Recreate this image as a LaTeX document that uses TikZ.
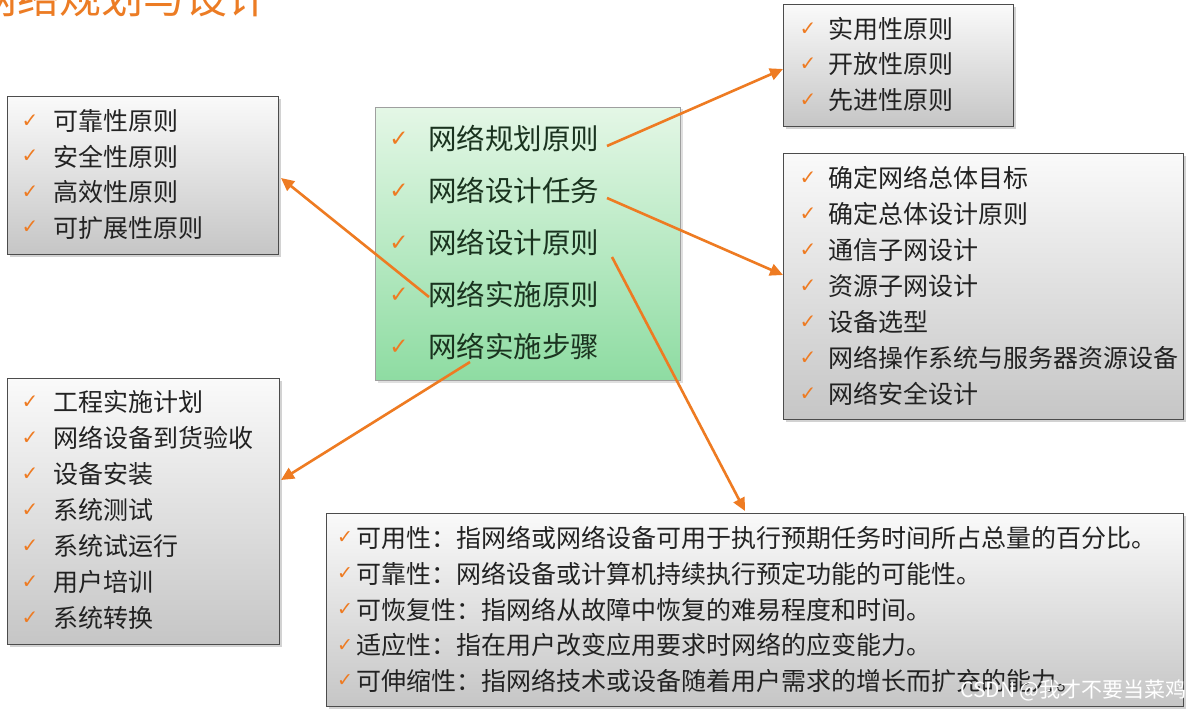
\documentclass[tikz,border=0pt]{standalone}
\usepackage{fontspec}
\setmainfont{Noto Sans CJK SC}
\newfontfamily\ttlfont{Noto Sans CJK SC}
\newfontfamily\chk{DejaVu Sans}
\usetikzlibrary{arrows.meta,shadows}
\definecolor{org}{HTML}{EE7B22}
\definecolor{txt}{HTML}{222222}
\definecolor{ctxt}{HTML}{1A331F}
\definecolor{ttl}{HTML}{EC7C24}
\definecolor{greenA}{HTML}{E4F7E6}
\definecolor{greenB}{HTML}{8EDCA2}
\tikzset{
  graybox/.style={draw=black!70, line width=1.3pt, top color=gray!4, bottom color=gray!45,
    drop shadow={shadow xshift=2.5pt,shadow yshift=-2.5pt,opacity=0.35},
    inner sep=0, anchor=north west},
  greenbox/.style={draw=gray!75, line width=1pt, top color=greenA, bottom color=greenB,
    drop shadow={shadow xshift=2pt,shadow yshift=-2pt,opacity=0.25},
    inner sep=0, anchor=north west},
  item/.style={anchor=base west, font=\fontsize{25}{25}\selectfont, text=txt, inner sep=0},
  bigitem/.style={item, text=ctxt, font=\fontsize{28.5}{28.5}\selectfont},
  tick/.style={text=org, font=\chk\fontsize{20}{20}\selectfont, inner sep=0},
  bigtick/.style={tick, font=\chk\fontsize{23}{23}\selectfont},
  smalltick/.style={tick, font=\chk\fontsize{19}{19}\selectfont},
  link/.style={draw=org, line width=2.6pt, -{Triangle[length=13pt,width=12pt]}},
}
\begin{document}
\begin{tikzpicture}[x=1pt,y=-1pt]
\useasboundingbox (0,0) rectangle (1187,709);
\clip (0,0) rectangle (1187,709);
\fill[white] (0,0) rectangle (1187,709);

% title
\node[anchor=base west, text=ttl, font=\ttlfont\fontsize{42}{42}\selectfont, inner sep=0] (title) at (-25,14) {网络规划与设计};

% boxes
\node[greenbox, minimum width=305pt, minimum height=273pt] (cb) at (375,107) {};
\node[graybox, minimum width=230pt, minimum height=122pt] (rt) at (783,4) {};
\node[graybox, minimum width=271pt, minimum height=158pt] (lt) at (7,96) {};
\node[graybox, minimum width=400pt, minimum height=266pt] (rm) at (783,153) {};
\node[graybox, minimum width=272pt, minimum height=266pt] (lb) at (7,378) {};
\node[graybox, minimum width=857pt, minimum height=193pt] (bb) at (326,513) {};

% central items
\foreach \t [count=\i] in {网络规划原则,网络设计任务,网络设计原则,网络实施原则,网络实施步骤}{
  \pgfmathsetmacro{\yy}{139+52*(\i-1)}
  \node[bigtick] (ck\i) at (399,\yy) {✓};
  \node[bigitem] (c\i) at (428,\yy+10.8) {\t};
}

% top right
\foreach \t [count=\i] in {实用性原则,开放性原则,先进性原则}{
  \pgfmathsetmacro{\yy}{29+35.5*(\i-1)}
  \node[tick] (rtk\i) at (808,\yy) {✓};
  \node[item] (rt\i) at (828,\yy+9.5) {\t};
}

% left top
\foreach \t [count=\i] in {可靠性原则,安全性原则,高效性原则,可扩展性原则}{
  \pgfmathsetmacro{\yy}{121+35.5*(\i-1)}
  \node[tick] (ltk\i) at (30,\yy) {✓};
  \node[item] (lt\i) at (53,\yy+9.5) {\t};
}

% right middle
\foreach \t [count=\i] in {确定网络总体目标,确定总体设计原则,通信子网设计,资源子网设计,设备选型,网络操作系统与服务器资源设备,网络安全设计}{
  \pgfmathsetmacro{\yy}{178+36*(\i-1)}
  \node[tick] (rmk\i) at (808,\yy) {✓};
  \node[item] (rm\i) at (828,\yy+9.5) {\t};
}

% left bottom
\foreach \t [count=\i] in {工程实施计划,网络设备到货验收,设备安装,系统测试,系统试运行,用户培训,系统转换}{
  \pgfmathsetmacro{\yy}{402+36*(\i-1)}
  \node[tick] (lbk\i) at (30,\yy) {✓};
  \node[item] (lb\i) at (53,\yy+9.5) {\t};
}

% bottom
\foreach \t [count=\i] in {可用性：指网络或网络设备可用于执行预期任务时间所占总量的百分比。,可靠性：网络设备或计算机持续执行预定功能的可能性。,可恢复性：指网络从故障中恢复的难易程度和时间。,适应性：指在用户改变应用要求时网络的应变能力。,可伸缩性：指网络技术或设备随着用户需求的增长而扩充的能力。}{
  \pgfmathsetmacro{\yy}{538+35.75*(\i-1)}
  \node[smalltick] (bbk\i) at (345,\yy) {✓};
  \node[item] (bb\i) at (356,\yy+9.5) {\t};
}

% watermark
\node[anchor=west, text=white, font=\ttlfont\fontsize{21}{21}\selectfont, inner sep=0] (wm) at (960,690) {CSDN @我才不要当菜鸡};

% connectors
\coordinate (s1) at (607,146);
\coordinate (e1) at (783,69);
\coordinate (s2) at (607,198);
\coordinate (e2) at (783,275);
\coordinate (s3) at (429,297);
\coordinate (e3) at (281,178);
\coordinate (s4) at (470,362);
\coordinate (e4) at (281,480);
\coordinate (s5) at (612,257);
\coordinate (e5) at (745,511);
\draw[link] (s1) -- (e1);
\draw[link] (s2) -- (e2);
\draw[link] (s3) -- (e3);
\draw[link] (s4) -- (e4);
\draw[link] (s5) -- (e5);
\end{tikzpicture}
\end{document}
